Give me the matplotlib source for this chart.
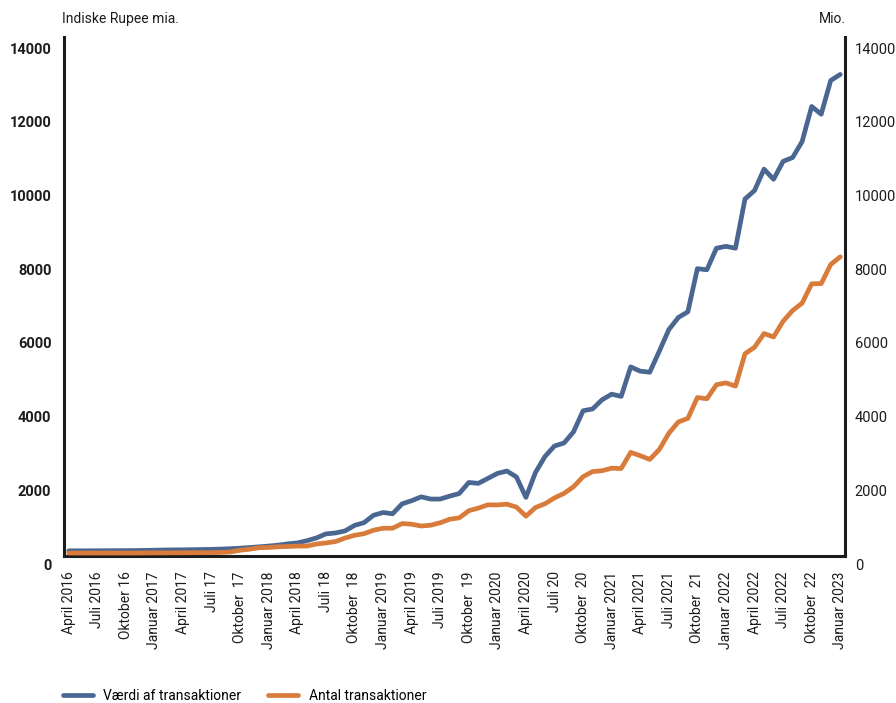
import matplotlib
matplotlib.use("Agg")
import matplotlib.pyplot as plt
from matplotlib.transforms import ScaledTranslation

#fonts
plt.rcParams['font.family'] = ['Roboto', 'DejaVu Sans']

#data, monthly from April 2016 to January 2023
vaerdi = [60, 60, 62, 62, 64, 65, 66, 68, 72, 78, 82, 86, 88, 92, 96, 100, 108, 118, 132, 150, 170, 190, 215, 250,
          275, 335, 410, 520, 545, 600, 750, 825, 1025, 1100, 1065, 1335, 1420, 1525, 1465, 1465, 1545, 1615,
          1915, 1890, 2025, 2160, 2225, 2065, 1510, 2185, 2620, 2905, 2985, 3290, 3860, 3910, 4160, 4310,
          4250, 5050, 4935, 4905, 5475, 6060, 6390, 6545, 7715, 7685, 8270, 8320, 8270, 9605, 9835, 10415,
          10140, 10625, 10730, 11165, 12115, 11905, 12820, 12985]  #Indiske Rupee mia.
antal = [0, 0, 0, 0.1, 0.1, 0.1, 0.1, 0.3, 2, 4, 4, 6, 7, 9, 10, 12, 17, 31, 77, 105, 146, 152, 171, 178,
         190, 189, 246, 274, 312, 406, 482, 525, 620, 673, 674, 800, 782, 734, 755, 822, 918, 955,
         1148, 1219, 1308, 1306, 1326, 1247, 1000, 1235, 1337, 1497, 1619, 1800, 2072, 2210, 2234, 2303,
         2293, 2732, 2641, 2540, 2808, 3248, 3556, 3654, 4219, 4186, 4566, 4617, 4527, 5406, 5583, 5955,
         5863, 6288, 6580, 6781, 7305, 7309, 7829, 8037]  #Mio.

tick_labels = ["April 2016", "Juli 2016", "Oktober 16", "Januar 2017", "April 2017", "Juli 17",
               "Oktober  17", "Januar 2018", "April 2018", "Juli 18", "Oktober  18", "Januar 2019",
               "April 2019", "Juli 2019", "Oktober  19", "Januar 2020", "April 2020", "Juli 20",
               "Oktober  20", "Januar 2021", "April 2021", "Juli 2021", "Oktober  21", "Januar 2022",
               "April 2022", "Juli 2022", "Oktober  22", "Januar 2023"]
y_ticks = [0, 2000, 4000, 6000, 8000, 10000, 12000, 14000]

blue = '#4a6792'
orange = '#d97b3b'
dark = '#1c1c1c'

fig = plt.figure(figsize=(8.96, 7.03), dpi=100)
ax = fig.add_axes([64/896, 1-556/703, (845-64)/896, (556-37)/703])
ax2 = ax.twinx()

x = list(range(len(vaerdi)))
l1, = ax.plot(x, vaerdi, color=blue, lw=3.4, solid_capstyle='round', label='Værdi af transaktioner', zorder=3)
l2, = ax2.plot(x, antal, color=orange, lw=3.4, solid_capstyle='round', label='Antal transaktioner', zorder=3)

for a in (ax, ax2):
    a.set_ylim(-80, 14000)
    a.set_yticks(y_ticks)
    a.set_xlim(-0.5, len(vaerdi) - 0.5)
    a.spines['top'].set_visible(False)
    for s in a.spines.values():
        s.set_linewidth(2.2)
        s.set_color(dark)

ax.spines['right'].set_visible(False)
ax2.spines['left'].set_visible(False)
ax2.spines['bottom'].set_visible(False)

ax.set_xticks(range(0, len(vaerdi), 3))
ax.set_xticklabels(tick_labels, rotation=90, fontsize=10, color=dark)
ax.tick_params(axis='x', length=0, pad=11)
ax.tick_params(axis='y', length=0, pad=9, labelsize=10.5, labelcolor=dark)
ax2.tick_params(axis='y', length=0, pad=7, labelsize=10.5, labelcolor=dark)
ax.set_yticklabels([str(v) for v in y_ticks], fontweight='bold')
ax2.set_yticklabels([str(v) for v in y_ticks])

#the y labels sit a bit below their gridline in the original
shift = ScaledTranslation(0, -0.11, fig.dpi_scale_trans)
for t in ax.yaxis.get_major_ticks() + ax2.yaxis.get_major_ticks():
    t.label1.set_transform(t.label1.get_transform() + shift)
    t.label2.set_transform(t.label2.get_transform() + shift)

fig.text(62/896, 1-19/703, 'Indiske Rupee mia.', fontsize=10, color=dark, va='center', ha='left')
fig.text(846/896, 1-19/703, 'Mio.', fontsize=10, color=dark, va='center', ha='right')

fig.legend(handles=[l1, l2], loc='center left', bbox_to_anchor=(50/896, 1-696/703), ncol=2,
           frameon=False, fontsize=10, handlelength=2.2, handletextpad=0.75, columnspacing=1.9)

fig.savefig('out.png', dpi=100)
